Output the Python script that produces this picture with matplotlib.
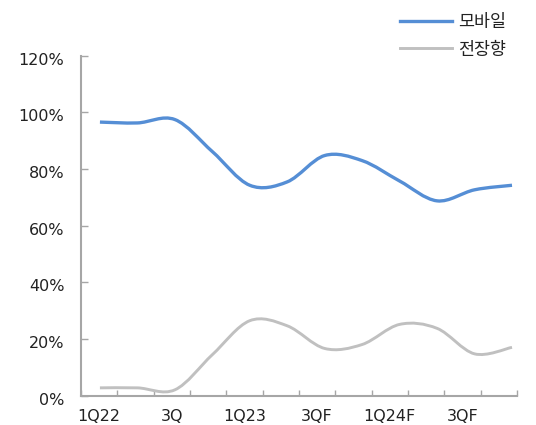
import numpy as np
import matplotlib.pyplot as plt
import matplotlib.transforms as mtransforms
from matplotlib.path import Path
from matplotlib.patches import PathPatch
from matplotlib.lines import Line2D

plt.rcParams['font.family'] = ['DejaVu Sans', 'Noto Sans CJK KR']

# data
quarters = ['1Q22', '2Q', '3Q', '4Q', '1Q23', '2Q', '3QF', '4QF', '1Q24F', '2QF', '3QF', '4QF']
mobile = [96.5, 96.2, 97.4, 86.1, 74.2, 75.4, 84.7, 82.9, 75.7, 68.7, 72.6, 74.2]
auto = [2.7, 2.7, 2.0, 14.4, 26.4, 24.6, 16.6, 18.0, 25.1, 23.7, 14.7, 17.0]
yticks = [0, 20, 40, 60, 80, 100, 120]

blue = '#558ED5'
grey = '#C0C0C0'
axis_col = '#A6A6A6'
txt = '#222222'


def smooth_path(x, y):
    # catmull-rom through the points, as bezier segments (excel "smoothed line")
    pts = np.column_stack([x, y]).astype(float)
    ext = np.vstack([pts[0], pts, pts[-1]])
    verts = [pts[0]]
    codes = [Path.MOVETO]
    for i in range(len(pts) - 1):
        p0, p1, p2, p3 = ext[i], ext[i + 1], ext[i + 2], ext[i + 3]
        verts += [p1 + (p2 - p0) / 6, p2 - (p3 - p1) / 6, p2]
        codes += [Path.CURVE4] * 3
    return Path(verts, codes)


fig = plt.figure(figsize=(5.36, 4.25), dpi=100)
ax = fig.add_axes([0.151, 0.0694, 0.8136, 0.80])

n = len(quarters)
ax.set_xlim(0, n)
ax.set_ylim(0, 120)

# category axis: ticks on boundaries, labels every other quarter
ax.set_xticks(np.arange(n + 1))
ax.set_xticklabels([])
ax.set_xticks(np.arange(0, n, 2) + 0.5, minor=True)
ax.set_xticklabels(quarters[::2], minor=True)
ax.tick_params(axis='x', which='major', direction='in', length=4, color=axis_col, width=1)
ax.tick_params(axis='x', which='minor', length=0, pad=10, labelsize=11.5, labelcolor=txt)

ax.set_yticks(yticks)
ax.set_yticklabels(['%d%%' % v for v in yticks])
ax.tick_params(axis='y', direction='in', length=5, color=axis_col, width=1, pad=12,
               labelsize=11.5, labelcolor=txt)
off = mtransforms.ScaledTranslation(0, -3 / 100, fig.dpi_scale_trans)
for lab in ax.get_yticklabels():
    lab.set_transform(lab.get_transform() + off)

for s in ['top', 'right']:
    ax.spines[s].set_visible(False)
for s in ['left', 'bottom']:
    ax.spines[s].set_color(axis_col)
    ax.spines[s].set_linewidth(1.5)

# data lines live on a twin x axis (points are not centred on the category ticks)
ax2 = ax.twiny()
ax2.set_xlim(-0.507, n - 1 + 0.134)
ax2.axis('off')
x = np.arange(n)
ax2.add_patch(PathPatch(smooth_path(x, auto), fill=False, edgecolor=grey, lw=2.1,
                        capstyle='butt'))
ax2.add_patch(PathPatch(smooth_path(x, mobile), fill=False, edgecolor=blue, lw=2.4,
                        capstyle='butt'))

handles = [Line2D([], [], color=blue, lw=2.4), Line2D([], [], color=grey, lw=2.1)]
fig.legend(handles, ['모바일', '전장향'], loc='upper left',
           bbox_to_anchor=(400 / 536, 1 - 13 / 425), frameon=False,
           borderpad=0, borderaxespad=0, handlelength=3.0, handletextpad=0.35,
           labelspacing=0.55, prop={'family': ['Noto Sans CJK KR'], 'size': 12.5},
           labelcolor=txt)

fig.savefig('out.png', dpi=100)
